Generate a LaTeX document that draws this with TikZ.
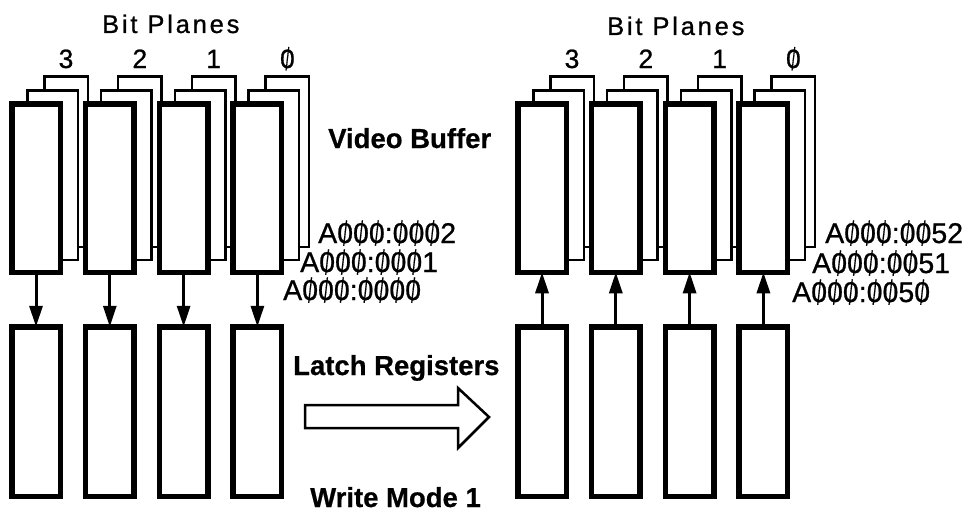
\documentclass[tikz,border=0pt]{standalone}
\usepackage{fontspec}
\setmainfont{Liberation Sans}
\newfontfamily\plainsans[RawFeature={embolden=0.8}]{Liberation Sans}
\newfontfamily\widesans[LetterSpace=11,RawFeature={embolden=0.8}]{Liberation Sans}
\newfontfamily\heavysans[RawFeature={embolden=0.6}]{Liberation Sans Bold}
\usetikzlibrary{arrows.meta}
% slashed zero, as printed in the address labels
\newcommand\sz{\ooalign{0\cr\hidewidth\raisebox{-0.08em}{\scalebox{0.5}[1.2]{/}}\hidewidth\cr}}

\begin{document}
\begin{tikzpicture}[x=1pt,y=-1pt,
  frontbox/.style={draw, line width=5.5pt, fill=white, inner sep=0pt, outer sep=0pt,
    minimum width=48.5pt, minimum height=168.5pt},
  backbox/.style={draw, line width=2.5pt, fill=white, inner sep=0pt, outer sep=0pt},
  midbox/.style={backbox, minimum width=50.5pt, minimum height=169.5pt},
  rearbox/.style={backbox, minimum width=43.5pt, minimum height=170.5pt},
  latchbox/.style={draw, line width=5.5pt, fill=white, inner sep=0pt, outer sep=0pt,
    minimum width=48.5pt, minimum height=169.5pt},
  feed/.style={line width=3pt, -{Triangle[width=13pt,length=21pt]}},
  bptext/.style={font=\widesans\fontsize{25.5}{30}\selectfont, anchor=base west, inner sep=0pt},
  planeno/.style={font=\plainsans\fontsize{26.5}{30}\selectfont, anchor=base, inner sep=0pt},
  boldtext/.style={font=\heavysans\fontsize{27.5}{32}\selectfont, anchor=base west, inner sep=0pt},
  addrtext/.style={font=\plainsans\fontsize{28.5}{32}\selectfont, anchor=base west, inner sep=0pt},
]
\useasboundingbox (0,0) rectangle (968,511);

% four bit planes per group: two outlined back layers, the front plane, and its latch
\foreach \g/\dx in {L/0, R/506} {
  \foreach \k in {0,1,2,3} {
    \pgfmathsetmacro\cx{36+\dx+73.8*\k}
    \node[rearbox] (\g r\k) at (\cx+30,161.5) {};
    \node[midbox] (\g m\k) at (\cx+16.5,175) {};
    \node[frontbox] (\g f\k) at (\cx,188) {};
    \node[latchbox] (\g l\k) at (\cx,411.5) {};
  }
}

% read into the latches on the left, write back from them on the right
\foreach \k in {0,1,2,3} {
  \draw[feed] (Lf\k.south) -- (Ll\k.north);
  \draw[feed] (Rl\k.north) -- (Rf\k.south);
}

% hollow transfer arrow
\draw[line width=2.5pt, line join=miter]
  (305,405) -- (458,405) -- (458,388) -- (489,417) -- (458,448) -- (458,428) -- (305,428) -- cycle;

% headings
\node[bptext] (bpL) at (102,33) {Bit Planes};
\node[bptext] (bpR) at (607,35) {Bit Planes};
\foreach \g in {L,R} {
  \node[planeno] (\g n3) at (\g r0 |- 0,68) {3};
  \node[planeno] (\g n2) at (\g r1 |- 0,68) {2};
  \node[planeno] (\g n1) at (\g r2 |- 0,68) {1};
  \node[planeno] (\g n0) at (\g r3 |- 0,68) {\sz};
}

\node[boldtext] (vb) at (328,148) {Video Buffer};
\node[boldtext] (lr) at (293,375) {Latch Registers};
\node[boldtext] (wm) at (310,507) {Write Mode 1};

% addresses of the bytes in the planes
\node[addrtext] (aL2) at (318,243) {A\sz\sz\sz:\sz\sz\sz2};
\node[addrtext] (aL1) at (300,272) {A\sz\sz\sz:\sz\sz\sz1};
\node[addrtext] (aL0) at (283,300) {A\sz\sz\sz:\sz\sz\sz\sz};
\node[addrtext] (aR2) at (825,243) {A\sz\sz\sz:\sz\sz52};
\node[addrtext] (aR1) at (812,273) {A\sz\sz\sz:\sz\sz51};
\node[addrtext] (aR0) at (792,302) {A\sz\sz\sz:\sz\sz5\sz};
\end{tikzpicture}
\end{document}
